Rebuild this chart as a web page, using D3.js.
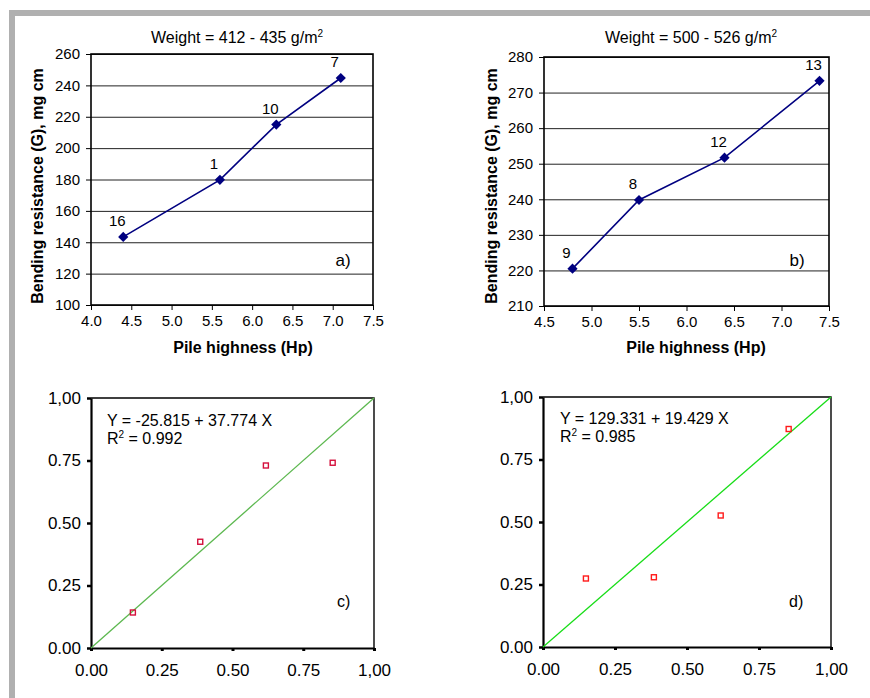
<!DOCTYPE html>
<html>
<head>
<meta charset="utf-8">
<script src="https://cdn.jsdelivr.net/npm/d3@7"></script>
<style>
  body { margin: 0; background: #fff; }
  svg { display: block; font-family: "Liberation Sans", Arial, sans-serif; }
</style>
</head>
<body>
<div id="chart"></div>
<script>
// values
const pileA = [4.4, 5.6, 6.3, 7.1];
const bendA = [143.4, 179.8, 215, 244.7];
const labelsA = ['16', '1', '10', '7'];

const pileB = [4.8, 5.5, 6.4, 7.4];
const bendB = [220.5, 239.8, 251.7, 273.3];
const labelsB = ['9', '8', '12', '13'];

const obsC = [0.148, 0.386, 0.618, 0.854];
const predC = [0.142, 0.425, 0.730, 0.741];
const obsD = [0.149, 0.385, 0.617, 0.853];
const predD = [0.274, 0.279, 0.526, 0.872];

const unitTicks = [0, 0.25, 0.5, 0.75, 1];
const unitTickLabels = ['0.00', '0.25', '0.50', '0.75', '1,00'];

const width = 870;
const height = 698;

const svg = d3.select('#chart')
    .append('svg')
    .attr('width', width)
    .attr('height', height);

// gray frame on top and left
svg.append('rect').attr('x', 9).attr('y', 10).attr('width', width - 9).attr('height', 6).attr('fill', '#b0b0b0');
svg.append('rect').attr('x', 9).attr('y', 10).attr('width', 6).attr('height', height - 10).attr('fill', '#b0b0b0');

// line chart (panels a and b)
function linePanel(opt) {
    const { xs, ys, labels, box, xDomain, yDomain, yStep, title, tag } = opt;
    const x = d3.scaleLinear().domain(xDomain).range([box.left, box.right]);
    const y = d3.scaleLinear().domain(yDomain).range([box.bottom, box.top]);
    const yTicks = d3.range(yDomain[0], yDomain[1] + 0.001, yStep);
    const xTicks = d3.range(xDomain[0], xDomain[1] + 0.001, 0.5);
    const g = svg.append('g');

    // gridlines
    g.append('g')
        .attr('transform', `translate(${box.left},0)`)
        .call(d3.axisLeft(y).tickValues(yTicks).tickFormat('').tickSize(-(box.right - box.left)))
        .call(s => s.select('.domain').remove())
        .call(s => s.selectAll('line').attr('stroke', '#222').attr('stroke-width', 1));

    // axes
    g.append('g')
        .attr('transform', `translate(${box.left},0)`)
        .call(d3.axisLeft(y).tickValues(yTicks).tickFormat(d3.format('d')).tickSize(5).tickPadding(6))
        .call(s => s.select('.domain').remove())
        .call(s => s.selectAll('text').attr('font-size', 15).attr('fill', '#000').style('font-family', 'inherit'));
    g.append('g')
        .attr('transform', `translate(0,${box.bottom})`)
        .call(d3.axisBottom(x).tickValues(xTicks).tickFormat(d3.format('.1f')).tickSize(5).tickPadding(5))
        .call(s => s.select('.domain').remove())
        .call(s => s.selectAll('text').attr('font-size', 15).attr('fill', '#000').style('font-family', 'inherit'));

    // frame
    g.append('rect')
        .attr('x', box.left).attr('y', box.top)
        .attr('width', box.right - box.left).attr('height', box.bottom - box.top)
        .attr('fill', 'none').attr('stroke', '#000').attr('stroke-width', 1.6);

    const pts = xs.map((v, i) => ({ x: v, y: ys[i], label: labels[i] }));

    g.append('path')
        .datum(pts)
        .attr('fill', 'none')
        .attr('stroke', '#000080')
        .attr('stroke-width', 1.6)
        .attr('d', d3.line().x(d => x(d.x)).y(d => y(d.y)));

    g.selectAll('.mark')
        .data(pts)
        .join('path')
        .attr('class', 'mark')
        .attr('d', d3.symbol(d3.symbolSquare, 52))
        .attr('transform', d => `translate(${x(d.x)},${y(d.y)}) rotate(45)`)
        .attr('fill', '#000080');

    g.selectAll('.lbl')
        .data(pts)
        .join('text')
        .attr('class', 'lbl')
        .attr('x', d => x(d.x) - 6)
        .attr('y', d => y(d.y) - 11)
        .attr('text-anchor', 'middle')
        .attr('font-size', 15)
        .attr('fill', '#000')
        .text(d => d.label);

    // title
    const t = g.append('text')
        .attr('x', opt.titleX).attr('y', 43)
        .attr('text-anchor', 'middle')
        .attr('font-size', 16)
        .text(title);
    t.append('tspan').attr('font-size', 10).attr('dy', -6).text('2');

    g.append('text')
        .attr('x', opt.tagX).attr('y', 266)
        .attr('text-anchor', 'middle')
        .attr('font-size', 17)
        .text(tag);

    g.append('text')
        .attr('transform', `translate(${opt.yLabelX},186) rotate(-90)`)
        .attr('text-anchor', 'middle')
        .attr('font-size', 16)
        .attr('font-weight', 'bold')
        .text('Bending resistance (G), mg cm');

    g.append('text')
        .attr('x', opt.xLabelX).attr('y', 353)
        .attr('text-anchor', 'middle')
        .attr('font-size', 16)
        .attr('font-weight', 'bold')
        .text('Pile highness (Hp)');
}

// observed vs predicted (panels c and d)
function scatterPanel(opt) {
    const { xs, ys, box, lineColor, markColor, eq, r2, tag } = opt;
    const x = d3.scaleLinear().domain([0, 1]).range([box.left, box.right]);
    const y = d3.scaleLinear().domain([0, 1]).range([box.bottom, box.top]);
    const fmt = d => unitTickLabels[unitTicks.indexOf(d)];
    const g = svg.append('g');

    // top & right border
    g.append('path')
        .attr('d', `M${box.left},${box.top}H${box.right}V${box.bottom}`)
        .attr('fill', 'none').attr('stroke', '#000').attr('stroke-width', 1.4);

    g.append('g')
        .attr('transform', `translate(${box.left},0)`)
        .call(d3.axisLeft(y).tickValues(unitTicks).tickFormat(fmt).tickSize(4).tickSizeOuter(0).tickPadding(6))
        .call(s => s.select('.domain').attr('stroke-width', 2.2))
        .call(s => s.selectAll('line').attr('stroke-width', 2.5))
        .call(s => s.selectAll('text').attr('font-size', 17).attr('fill', '#000').style('font-family', 'inherit'));
    g.append('g')
        .attr('transform', `translate(0,${box.bottom})`)
        .call(d3.axisBottom(x).tickValues(unitTicks).tickFormat(fmt).tickSize(3).tickSizeOuter(0).tickPadding(13))
        .call(s => s.select('.domain').attr('stroke-width', 2.2))
        .call(s => s.selectAll('line').attr('stroke-width', 3))
        .call(s => s.selectAll('text').attr('font-size', 17).attr('fill', '#000').style('font-family', 'inherit'));

    // fitted diagonal
    g.append('line')
        .attr('x1', x(0)).attr('y1', y(0))
        .attr('x2', x(1)).attr('y2', y(1))
        .attr('stroke', lineColor).attr('stroke-width', 1.3);

    const pts = xs.map((v, i) => ({ x: v, y: ys[i] }));
    g.selectAll('.pt')
        .data(pts)
        .join('rect')
        .attr('class', 'pt')
        .attr('x', d => x(d.x) - 2.5)
        .attr('y', d => y(d.y) - 2.5)
        .attr('width', 5).attr('height', 5)
        .attr('fill', 'none')
        .attr('stroke', markColor)
        .attr('stroke-width', 1.4);

    g.append('text')
        .attr('x', opt.eqX).attr('y', opt.eqY)
        .attr('font-size', 16)
        .text(eq);
    const r = g.append('text')
        .attr('x', opt.eqX).attr('y', opt.eqY + 18)
        .attr('font-size', 16)
        .text('R');
    r.append('tspan').attr('font-size', 10).attr('dy', -6).text('2');
    r.append('tspan').attr('dy', 6).text(' = ' + r2);

    g.append('text')
        .attr('x', opt.tagX).attr('y', opt.tagY)
        .attr('font-size', 16)
        .text(tag);
}

linePanel({
    xs: pileA, ys: bendA, labels: labelsA,
    box: { left: 91, right: 373, top: 54, bottom: 305 },
    xDomain: [4, 7.5], yDomain: [100, 260], yStep: 20,
    title: 'Weight = 412 - 435 g/m', tag: 'a)',
    titleX: 237, tagX: 343, yLabelX: 43, xLabelX: 243
});

linePanel({
    xs: pileB, ys: bendB, labels: labelsB,
    box: { left: 544, right: 829, top: 57, bottom: 306 },
    xDomain: [4.5, 7.5], yDomain: [210, 280], yStep: 10,
    title: 'Weight = 500 - 526 g/m', tag: 'b)',
    titleX: 691, tagX: 797, yLabelX: 497, xLabelX: 696
});

scatterPanel({
    xs: obsC, ys: predC,
    box: { left: 91, right: 374, top: 398, bottom: 648 },
    lineColor: '#5cb84f', markColor: '#d4103c',
    eq: 'Y = -25.815 + 37.774 X', r2: '0.992', tag: 'c)',
    eqX: 107, eqY: 426, tagX: 337, tagY: 607
});

scatterPanel({
    xs: obsD, ys: predD,
    box: { left: 543, right: 831, top: 397, bottom: 647 },
    lineColor: '#18dd18', markColor: '#ff1a1a',
    eq: 'Y = 129.331 + 19.429 X', r2: '0.985', tag: 'd)',
    eqX: 560, eqY: 424, tagX: 789, tagY: 607
});
</script>
</body>
</html>
